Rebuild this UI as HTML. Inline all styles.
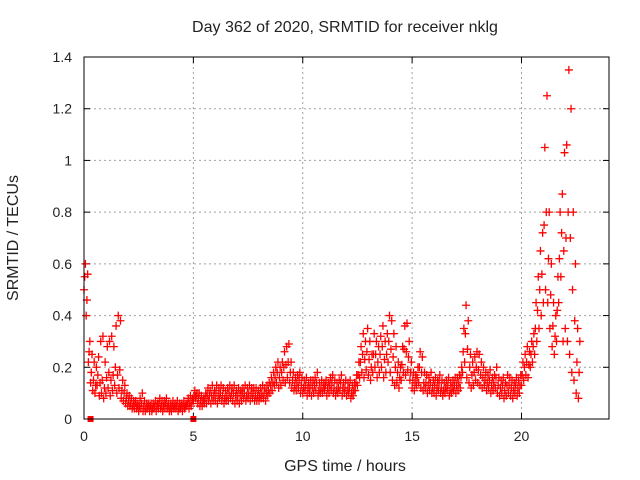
<!DOCTYPE html>
<html><head><meta charset="utf-8"><style>
body{margin:0;background:#fff}
svg{display:block;font-family:"Liberation Sans",sans-serif}
</style></head><body>
<svg id="chart" width="640" height="480">
<text x="345" y="32" text-anchor="middle" font-size="16" fill="#222">Day 362 of 2020, SRMTID for receiver nklg</text>
<text x="345" y="471" text-anchor="middle" font-size="16" fill="#222">GPS time / hours</text>
<text x="18" y="238" text-anchor="middle" font-size="16" fill="#222" transform="rotate(-90 18 238)">SRMTID / TECUs</text>
<g id="grid"></g><g id="ticks"></g><g id="marks"></g>
<rect x="84" y="57" width="525" height="362" fill="none" stroke="#000" stroke-width="1"/>
</svg>
<script>
const xTicks=[0,5,10,15,20];
const yTicks=[0,0.2,0.4,0.6,0.8,1,1.2,1.4];
const yTickLabels=["0","0.2","0.4","0.6","0.8","1","1.2","1.4"];
const seriesLow=[0.50,0.40,0.22,0.14,0.11,0.10,0.13,0.09,0.10,0.08,
0.10,0.12,0.09,0.11,0.13,0.10,0.12,0.08,0.07,0.06,
0.05,0.05,0.04,0.04,0.04,0.03,0.04,0.03,0.03,0.04,
0.03,0.03,0.04,0.03,0.04,0.04,0.03,0.04,0.04,0.03,
0.03,0.04,0.04,0.03,0.04,0.03,0.04,0.05,0.04,0.05,
0.07,0.08,0.06,0.05,0.05,0.06,0.06,0.07,0.06,0.07,
0.07,0.06,0.08,0.07,0.06,0.07,0.07,0.08,0.07,0.06,
0.07,0.06,0.07,0.08,0.07,0.08,0.07,0.08,0.07,0.07,
0.07,0.08,0.08,0.07,0.09,0.10,0.11,0.13,0.14,0.12,
0.13,0.15,0.14,0.16,0.14,0.12,0.11,0.11,0.12,0.10,
0.10,0.11,0.09,0.10,0.09,0.10,0.11,0.09,0.10,0.10,
0.11,0.09,0.10,0.11,0.10,0.09,0.10,0.11,0.09,0.10,
0.09,0.10,0.08,0.09,0.11,0.13,0.16,0.18,0.16,0.19,
0.17,0.15,0.18,0.20,0.16,0.18,0.20,0.16,0.18,0.22,
0.18,0.15,0.13,0.14,0.12,0.15,0.18,0.17,0.19,0.15,
0.12,0.11,0.13,0.14,0.12,0.11,0.12,0.10,0.11,0.10,
0.10,0.09,0.11,0.10,0.09,0.10,0.11,0.09,0.10,0.11,
0.10,0.11,0.12,0.18,0.22,0.16,0.14,0.12,0.13,0.15,
0.14,0.13,0.12,0.13,0.11,0.12,0.10,0.11,0.12,0.10,
0.09,0.10,0.08,0.09,0.10,0.09,0.08,0.10,0.09,0.10,
0.13,0.15,0.17,0.16,0.20,0.22,0.25,0.30,0.35,0.40,
0.45,0.50,0.45,0.35,0.28,0.25,0.30,0.45,0.55,0.30,
0.35,0.30,0.25,0.18,0.15,0.10,0.08];
const seriesMid=[0.55,0.46,0.26,0.18,0.15,0.13,0.17,0.14,0.15,0.12,
0.16,0.18,0.15,0.17,0.20,0.17,0.19,0.11,0.10,0.08,
0.07,0.06,0.05,0.06,0.05,0.05,0.06,0.05,0.04,0.05,
0.05,0.04,0.05,0.05,0.06,0.05,0.05,0.06,0.05,0.04,
0.05,0.05,0.05,0.04,0.05,0.05,0.05,0.06,0.06,0.07,
0.09,0.09,0.08,0.07,0.07,0.08,0.09,0.09,0.09,0.09,
0.10,0.09,0.10,0.09,0.08,0.09,0.10,0.10,0.10,0.09,
0.09,0.09,0.10,0.10,0.09,0.10,0.10,0.10,0.09,0.09,
0.09,0.10,0.10,0.10,0.11,0.13,0.14,0.16,0.18,0.16,
0.18,0.20,0.21,0.22,0.18,0.15,0.13,0.14,0.15,0.13,
0.12,0.13,0.12,0.12,0.12,0.13,0.14,0.11,0.12,0.12,
0.13,0.12,0.13,0.14,0.12,0.11,0.12,0.14,0.12,0.12,
0.11,0.12,0.10,0.11,0.14,0.17,0.22,0.25,0.23,0.26,
0.23,0.20,0.25,0.25,0.22,0.25,0.28,0.23,0.25,0.30,
0.27,0.24,0.20,0.18,0.16,0.21,0.27,0.26,0.24,0.18,
0.15,0.14,0.16,0.20,0.18,0.14,0.14,0.13,0.14,0.12,
0.13,0.12,0.14,0.12,0.11,0.12,0.13,0.11,0.12,0.13,
0.13,0.14,0.16,0.26,0.33,0.27,0.20,0.17,0.18,0.20,
0.19,0.17,0.16,0.15,0.14,0.15,0.13,0.14,0.16,0.13,
0.12,0.13,0.11,0.13,0.13,0.12,0.11,0.13,0.12,0.13,
0.17,0.20,0.22,0.21,0.25,0.28,0.35,0.42,0.50,0.56,
0.75,0.80,0.62,0.48,0.36,0.32,0.42,0.62,0.72,0.65,
0.70,0.80,0.70,0.50,0.38,0.22,0.18];
const seriesHigh=[0.60,0.56,0.30,0.25,0.22,0.20,0.24,0.30,0.32,0.22,
0.28,0.30,0.32,0.28,0.36,0.40,0.38,0.15,0.13,0.10,
0.09,0.08,0.07,0.07,0.06,0.08,0.10,0.07,0.06,0.06,
0.06,0.06,0.07,0.06,0.08,0.07,0.07,0.08,0.06,0.06,
0.07,0.06,0.07,0.06,0.06,0.07,0.06,0.08,0.09,0.08,
0.11,0.10,0.10,0.09,0.08,0.10,0.12,0.11,0.13,0.11,
0.13,0.12,0.13,0.12,0.11,0.12,0.13,0.12,0.13,0.11,
0.12,0.11,0.12,0.13,0.12,0.13,0.12,0.12,0.12,0.11,
0.12,0.13,0.12,0.13,0.14,0.16,0.18,0.20,0.22,0.20,
0.22,0.26,0.28,0.29,0.22,0.18,0.16,0.17,0.18,0.16,
0.15,0.16,0.14,0.15,0.15,0.16,0.18,0.14,0.15,0.14,
0.15,0.14,0.16,0.17,0.15,0.14,0.15,0.17,0.14,0.15,
0.14,0.15,0.13,0.14,0.17,0.22,0.28,0.33,0.30,0.35,
0.30,0.25,0.33,0.30,0.28,0.32,0.36,0.30,0.33,0.40,
0.38,0.33,0.28,0.22,0.20,0.28,0.36,0.37,0.30,0.22,
0.18,0.17,0.20,0.26,0.24,0.18,0.17,0.16,0.18,0.15,
0.16,0.15,0.17,0.15,0.14,0.15,0.16,0.14,0.15,0.16,
0.16,0.17,0.20,0.35,0.44,0.38,0.25,0.22,0.24,0.26,
0.25,0.22,0.20,0.18,0.17,0.19,0.16,0.17,0.20,0.16,
0.15,0.16,0.14,0.17,0.16,0.15,0.14,0.16,0.15,0.17,
0.22,0.25,0.28,0.26,0.30,0.33,0.45,0.55,0.65,0.72,
1.05,1.25,0.80,0.60,0.45,0.40,0.55,0.80,0.87,1.03,
1.06,1.35,1.20,0.80,0.60,0.35,0.30];
const timeStart=0, timeStep=0.1;
const gapTimes=[0.3,5.0];

const NS="http://www.w3.org/2000/svg";
const X0=84,X1=609,Y0=419,Y1=57,XMAX=24,YMAX=1.4;
function xs(v){return X0+(X1-X0)*v/XMAX;}
function ys(v){return Y0-(Y0-Y1)*v/YMAX;}
function mk(tag,attrs,parent){const e=document.createElementNS(NS,tag);for(const k in attrs)e.setAttribute(k,attrs[k]);parent.appendChild(e);return e;}
const grid=document.getElementById('grid'),ticks=document.getElementById('ticks'),marks=document.getElementById('marks');
xTicks.forEach(t=>{
  const x=xs(t);
  if(t>0){const g=mk('line',{x1:x,x2:x,y1:Y1,y2:Y0,stroke:'#a0a0a0','stroke-dasharray':'2,3'},grid);
  
  }
  mk('line',{x1:x,x2:x,y1:Y0,y2:Y0-6,stroke:'#000'},ticks);
  mk('line',{x1:x,x2:x,y1:Y1,y2:Y1+6,stroke:'#000'},ticks);
  const l=mk('text',{x:x,y:Y0+22,'text-anchor':'middle','font-size':14,fill:'#222'},ticks);
  l.textContent=t;
  
  
});
yTicks.forEach((t,i)=>{
  const y=ys(t);
  if(t>0&&t<YMAX){const g=mk('line',{x1:X0,x2:X1,y1:y,y2:y,stroke:'#a0a0a0','stroke-dasharray':'2,3'},grid);
  
  }
  mk('line',{x1:X0,x2:X0+6,y1:y,y2:y,stroke:'#000'},ticks);
  mk('line',{x1:X1,x2:X1-6,y1:y,y2:y,stroke:'#000'},ticks);
  const l=mk('text',{x:X0-12,y:y+5,'text-anchor':'end','font-size':14,fill:'#222'},ticks);
  l.textContent=yTickLabels[i];
  
  
});
function plus(t,v,name){
  const x=xs(t),y=ys(v);
  const p=mk('path',{d:`M${x-4},${y}h8M${x},${y-4}v8`,stroke:'#ff0000','stroke-width':1.3,fill:'none'},marks);
  
  
}
seriesLow.forEach((v,i)=>plus(timeStart+i*timeStep,v,'srmtid-point'));
seriesMid.forEach((v,i)=>plus(timeStart+i*timeStep+0.033,v,'srmtid-point'));
seriesHigh.forEach((v,i)=>plus(timeStart+i*timeStep+0.066,v,'srmtid-point'));
gapTimes.forEach(t=>{
  const r=mk('rect',{x:xs(t)-3,y:Y0-3,width:6,height:6,fill:'#ff0000'},marks);
  
  
});
</script>
</body></html>
